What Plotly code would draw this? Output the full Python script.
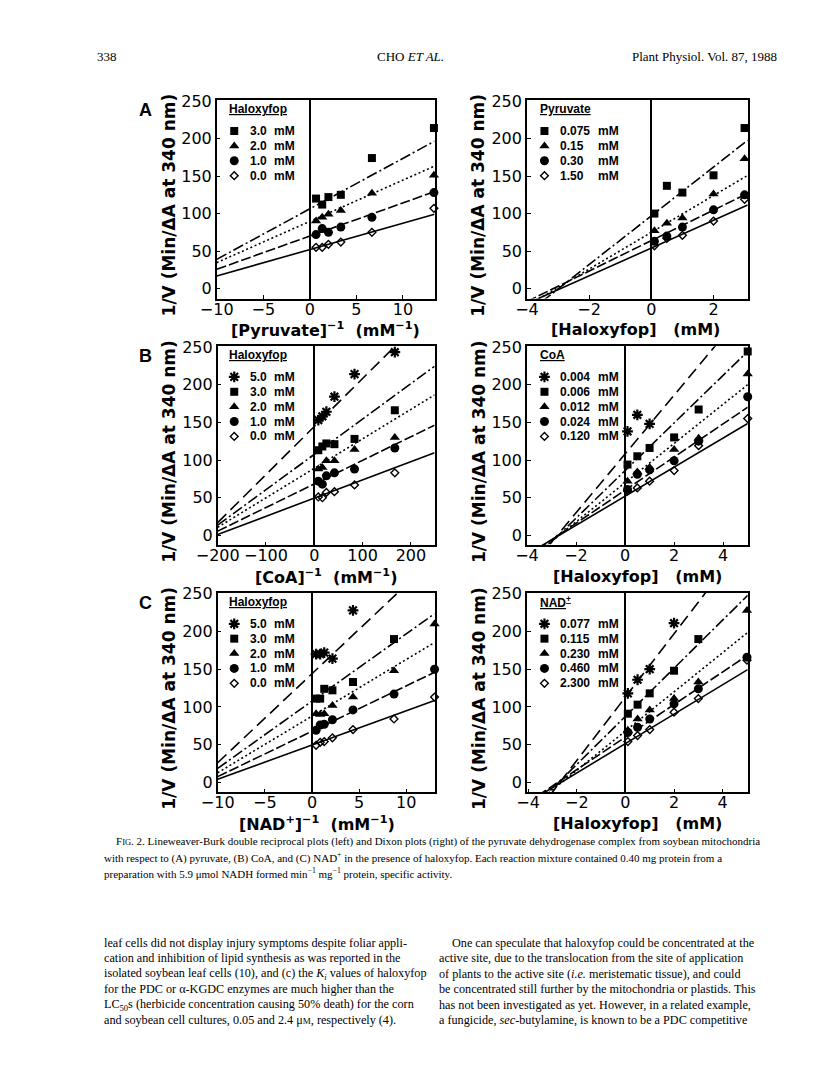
import plotly.graph_objects as go

# page is 816x1073; the browser keeps an 8px body margin, so the figure is 800x1057
PAGE_OFF = 8
W, H = 800, 1057

# ================= DATA =================
# ---- Panel A : pyruvate ----
a_lb_x = [0.67, 1.33, 2.0, 3.33, 6.67, 13.33]            # [Pyruvate]^-1 (mM^-1)
a_lb_labels = ["3.0", "2.0", "1.0", "0.0"]              # haloxyfop (mM)
a_lb_y_30 = [120, 112, 122, 125, 174, 214]
a_lb_y_20 = [90, 95, 99, 104, 127, 151]
a_lb_y_10 = [72, 80, 75, 82, 95, 128]
a_lb_y_00 = [55, 55, 59, 62, 75, 107]
a_lb_slope = [6.73, 5.50, 4.42, 3.51]
a_lb_icpt = [106.3, 89.6, 70.0, 52.0]

a_dx_x = [0.1, 0.5, 1.0, 2.0, 3.0]                       # [Haloxyfop] (mM)
a_dx_labels = ["0.075", "0.15", "0.30", "1.50"]         # pyruvate (mM)
a_dx_y_0075 = [100, 137, 128, 151, 214]
a_dx_y_015 = [77, 87, 94, 126, 173]
a_dx_y_030 = [63, 70, 82, 105, 125]
a_dx_y_150 = [57, 67, 71, 90, 119]
a_dx_slope = [32.5, 24.5, 20.3, 18.5]
a_dx_icpt = [97.0, 75.0, 64.0, 54.0]

# ---- Panel B : CoA ----
b_lb_x = [8.33, 16.7, 25.0, 41.7, 83.3, 166.7, 250.0]   # [CoA]^-1 (mM^-1)
b_lb_labels = ["5.0", "3.0", "2.0", "1.0", "0.0"]
b_lb_y_50 = [153, 158, 164, 184, 214, 243]
b_lb_y_30 = [113, 118, 122, 121, 128, 166]
b_lb_y_20 = [88, 90, 99, 99, 114, 130]
b_lb_y_10 = [72, 68, 79, 83, 88, 116, 146]
b_lb_y_00 = [51, 50, 57, 58, 67, 83, 119]
b_lb_slope = [0.637, 0.469, 0.391, 0.313, 0.241]
b_lb_icpt = [144.4, 107.5, 89.0, 68.3, 49.5]

b_dx_x = [0.1, 0.5, 1.0, 2.0, 3.0, 5.0]
b_dx_labels = ["0.004", "0.006", "0.012", "0.024", "0.120"]   # CoA (mM)
b_dx_y_0004 = [138, 160, 148]
b_dx_y_0006 = [94, 105, 116, 130, 167, 244]
b_dx_y_0012 = [72, 84, 90, 114, 129, 214]
b_dx_y_0024 = [61, 81, 87, 99, 125, 184]
b_dx_y_0120 = [59, 63, 72, 86, 119, 155]
b_dx_slope = [39.0, 31.6, 26.0, 22.0, 19.3]
b_dx_icpt = [108.0, 86.0, 70.0, 60.0, 52.0]

# ---- Panel C : NAD+ ----
c_lb_x = [0.435, 0.87, 1.3, 2.17, 4.35, 8.7, 13.0]      # [NAD+]^-1 (mM^-1)
c_lb_labels = ["5.0", "3.0", "2.0", "1.0", "0.0"]
c_lb_y_50 = [170, 170, 172, 164, 228]
c_lb_y_30 = [111, 111, 124, 122, 133, 190]
c_lb_y_20 = [91, 90, 91, 102, 113, 148, 210]
c_lb_y_10 = [69, 76, 77, 83, 96, 117, 150]
c_lb_y_00 = [49, 53, 54, 59, 70, 84, 113]
c_lb_slope = [11.8, 8.92, 7.51, 6.02, 4.55]
c_lb_icpt = [144.0, 107.7, 87.8, 67.7, 49.5]

c_dx_x = [0.1, 0.5, 1.0, 2.0, 3.0, 5.0]
c_dx_labels = ["0.077", "0.115", "0.230", "0.460", "2.300"]   # NAD+ (mM)
c_dx_y_0077 = [118, 136, 150, 211]
c_dx_y_0115 = [91, 103, 118, 148, 190]
c_dx_y_0230 = [69, 84, 96, 111, 133, 228]
c_dx_y_0460 = [66, 73, 84, 104, 124, 166]
c_dx_y_2300 = [54, 62, 70, 93, 111, 162]
c_dx_slope = [42.0, 31.9, 26.0, 21.6, 19.5]
c_dx_icpt = [113.0, 87.5, 68.0, 60.0, 51.4]

# tick values
y_ticks = [0, 50, 100, 150, 200, 250]
x_ticks_a_lb = [-10, -5, 0, 5, 10]
x_ticks_b_lb = [-200, -100, 0, 100, 200]
x_ticks_c_lb = [-10, -5, 0, 5, 10]
x_ticks_dx_a = [-4, -2, 0, 2]
x_ticks_dx = [-4, -2, 0, 2, 4]

# ================= STYLES / LAYOUT =================
SANS = "Liberation Sans"
WIDE = "DejaVu Sans"
SERIF = "Liberation Serif"

SYM = {
    "star": dict(symbol="asterisk-open", size=9, color="black", line=dict(width=2.2, color="black")),
    "square": dict(symbol="square", size=8, color="black"),
    "tri": dict(symbol="triangle-up", size=9, color="black"),
    "circ": dict(symbol="circle", size=9, color="black"),
    "diam": dict(symbol="diamond-open", size=6, color="black", line=dict(width=1.4, color="black")),
}
DASH = {
    "long": "12px,6px",
    "dashdot": "11px,3px,2px,3px",
    "dot": "2px,2.6px",
    "dash": "10px,3px",
    "solid": "solid",
}
ROW = 15            # key row spacing (px)

def px(x):          # page pixel -> paper fraction
    return (x - PAGE_OFF) / W

def py(y):
    return 1 - (y - PAGE_OFF) / H

panels = [
    dict(box=(200, 92, 424, 292), xr=(-10, 13.4), xt=x_ticks_a_lb,
         x=a_lb_x, ys=[a_lb_y_30, a_lb_y_20, a_lb_y_10, a_lb_y_00],
         labels=a_lb_labels, slope=a_lb_slope, icpt=a_lb_icpt,
         syms=["square", "tri", "circ", "diam"], dashes=["dashdot", "dot", "dash", "solid"],
         title="Haloxyfop", xtitle="[Pyruvate]<sup>−1</sup>  (mM<sup>−1</sup>)", xtitle_x=312,
         letter="A", lb=True),
    dict(box=(519, 92, 746, 292), xr=(-4, 3.1), xt=x_ticks_dx_a,
         x=a_dx_x, ys=[a_dx_y_0075, a_dx_y_015, a_dx_y_030, a_dx_y_150],
         labels=a_dx_labels, slope=a_dx_slope, icpt=a_dx_icpt,
         syms=["square", "tri", "circ", "diam"], dashes=["dashdot", "dot", "dash", "solid"],
         title="Pyruvate", xtitle="[Haloxyfop]   (mM)", xtitle_x=631, letter=None, lb=False),
    dict(box=(201, 340, 424, 541), xr=(-200, 249), xt=x_ticks_b_lb,
         x=b_lb_x, ys=[b_lb_y_50, b_lb_y_30, b_lb_y_20, b_lb_y_10, b_lb_y_00],
         labels=b_lb_labels, slope=b_lb_slope, icpt=b_lb_icpt,
         syms=["star", "square", "tri", "circ", "diam"],
         dashes=["long", "dashdot", "dot", "dash", "solid"],
         title="Haloxyfop", xtitle="[CoA]<sup>−1</sup>  (mM<sup>−1</sup>)", xtitle_x=312,
         letter="B", lb=True),
    dict(box=(519, 340, 746, 541), xr=(-4, 5), xt=x_ticks_dx,
         x=b_dx_x, ys=[b_dx_y_0004, b_dx_y_0006, b_dx_y_0012, b_dx_y_0024, b_dx_y_0120],
         labels=b_dx_labels, slope=b_dx_slope, icpt=b_dx_icpt,
         syms=["star", "square", "tri", "circ", "diam"],
         dashes=["long", "dashdot", "dot", "dash", "solid"],
         title="CoA", xtitle="[Haloxyfop]   (mM)", xtitle_x=633, letter=None, lb=False),
    dict(box=(201, 589, 424, 790), xr=(-10, 13), xt=x_ticks_c_lb,
         x=c_lb_x, ys=[c_lb_y_50, c_lb_y_30, c_lb_y_20, c_lb_y_10, c_lb_y_00],
         labels=c_lb_labels, slope=c_lb_slope, icpt=c_lb_icpt,
         syms=["star", "square", "tri", "circ", "diam"],
         dashes=["long", "dashdot", "dot", "dash", "solid"],
         title="Haloxyfop", xtitle="[NAD<sup>+</sup>]<sup>−1</sup>  (mM<sup>−1</sup>)", xtitle_x=303,
         letter="C", lb=True),
    dict(box=(519, 589, 746, 790), xr=(-4.05, 5.03), xt=x_ticks_dx,
         x=c_dx_x, ys=[c_dx_y_0077, c_dx_y_0115, c_dx_y_0230, c_dx_y_0460, c_dx_y_2300],
         labels=c_dx_labels, slope=c_dx_slope, icpt=c_dx_icpt,
         syms=["star", "square", "tri", "circ", "diam"],
         dashes=["long", "dashdot", "dot", "dash", "solid"],
         title="NAD<sup>+</sup>", xtitle="[Haloxyfop]   (mM)", xtitle_x=633, letter=None, lb=False),
]

fig = go.Figure()
layout = dict(width=W, height=H, margin=dict(l=0, r=0, t=0, b=0),
              paper_bgcolor="white", plot_bgcolor="white", showlegend=False)
annotations = []

def ann(text, x, y, size, family=SANS, anchor="left", angle=0):
    annotations.append(dict(text=text, x=px(x), y=py(y), xref="paper", yref="paper",
                            xanchor=anchor, yanchor="middle", showarrow=False, textangle=angle,
                            font=dict(family=family, size=size, color="black")))

npan = len(panels)
for i, p in enumerate(panels):
    k = "" if i == 0 else str(i + 1)
    xa, ya = "x" + k, "y" + k
    x0, y0, x1, y1 = p["box"]
    axis_common = dict(showline=True, mirror=True, linecolor="black", linewidth=1.5,
                       ticks="inside", ticklen=4, tickwidth=1.2, tickcolor="black",
                       showgrid=False, tickfont=dict(family=WIDE, size=16, color="black"))
    layout["xaxis" + k] = dict(axis_common, domain=[px(x0), px(x1)], range=list(p["xr"]),
                               tickvals=p["xt"], anchor=ya, zeroline=True,
                               zerolinecolor="black", zerolinewidth=1.5,
                               ticklabelstandoff=-5)
    layout["yaxis" + k] = dict(axis_common, domain=[py(y1), py(y0)], range=[-13.3, 251],
                               tickvals=y_ticks, anchor=xa, zeroline=False)

    # fitted lines
    for m, b, d in zip(p["slope"], p["icpt"], p["dashes"]):
        xs = [p["xr"][0], p["xr"][1]]
        fig.add_trace(go.Scatter(x=xs, y=[b + m * xv for xv in xs], mode="lines",
                                 line=dict(color="black", width=1.6, dash=DASH[d]),
                                 xaxis=xa, yaxis=ya, hoverinfo="skip"))
    # data points
    for ys, lab, s in zip(p["ys"], p["labels"], p["syms"]):
        fig.add_trace(go.Scatter(x=p["x"][:len(ys)], y=ys, mode="markers",
                                 marker=SYM[s], name=lab + " mM",
                                 xaxis=xa, yaxis=ya, cliponaxis=False))

    # ---- key: symbol column on its own small axis, rows spaced ROW px ----
    n = len(p["labels"])
    mx = 218 if p["lb"] else 537        # symbol column centre (px)
    tx = 232 if p["lb"] else 551        # value text column (px)
    ux = 257 if p["lb"] else 590        # unit column (px)
    r0 = y0 + 31                        # first row centre (px)
    j = str(npan + i + 1)
    layout["xaxis" + j] = dict(domain=[px(mx - 8), px(mx + 8)], range=[-1, 1], visible=False,
                               anchor="y" + j, fixedrange=True)
    layout["yaxis" + j] = dict(domain=[py(r0 + ROW * (n - 1) + ROW / 2), py(r0 - ROW / 2)],
                               range=[n - 0.5, -0.5], visible=False, anchor="x" + j, fixedrange=True)
    for row, (lab, s) in enumerate(zip(p["labels"], p["syms"])):
        fig.add_trace(go.Scatter(x=[0], y=[row], mode="markers", marker=SYM[s],
                                 xaxis="x" + j, yaxis="y" + j, hoverinfo="skip", cliponaxis=False))
        ann("<b>" + lab + "</b>", tx, r0 + ROW * row, 12)
        ann("<b>mM</b>", ux, r0 + ROW * row, 12)
    ann("<b><u>" + p["title"] + "</u></b>", 211 if p["lb"] else 530, y0 + 9, 12)

    # axis titles
    ann("<b>1/V (Min/ΔA at 340 nm)</b>", 151 if p["lb"] else 469, (y0 + y1) / 2 + 6, 17,
        family=WIDE, anchor="center", angle=-90)
    ann("<b>" + p["xtitle"] + "</b>", p["xtitle_x"], y1 + 31, 16, family=WIDE, anchor="center")
    if p["letter"]:
        ann("<b>" + p["letter"] + "</b>", 127, y0 + 10, 18, anchor="center")

# ---- page text ----
ann("338", 75, 48, 13, SERIF)
ann("CHO <i>ET AL.</i>", 399, 48, 13, SERIF, "center")
ann("Plant Physiol. Vol. 87, 1988", 778, 48, 13, SERIF, "right")

cap = [
    "F<span style='font-size:8.5px'>IG</span>. 2. Lineweaver-Burk double reciprocal plots (left) and Dixon plots (right) of the pyruvate dehydrogenase complex from soybean mitochondria",
    "with respect to (A) pyruvate, (B) CoA, and (C) NAD<sup>+</sup> in the presence of haloxyfop. Each reaction mixture contained 0.40 mg protein from a",
    "preparation with 5.9 μmol NADH formed min<sup>−1</sup> mg<sup>−1</sup> protein, specific activity.",
]
cap_x = [94, 82, 82]
cap_y = [840, 856, 871]
for t, x, y in zip(cap, cap_x, cap_y):
    ann(t, x, y, 11, SERIF)

body_left = [
    "leaf cells did not display injury symptoms despite foliar appli-",
    "cation and inhibition of lipid synthesis as was reported in the",
    "isolated soybean leaf cells (10), and (c) the <i>K<sub>i</sub></i> values of haloxyfop",
    "for the PDC or α-KGDC enzymes are much higher than the",
    "LC<sub>50</sub>s (herbicide concentration causing 50% death) for the corn",
    "and soybean cell cultures, 0.05 and 2.4 μ<span style='font-size:9px'>M</span>, respectively (4).",
]
body_right = [
    "One can speculate that haloxyfop could be concentrated at the",
    "active site, due to the translocation from the site of application",
    "of plants to the active site (<i>i.e.</i> meristematic tissue), and could",
    "be concentrated still further by the mitochondria or plastids. This",
    "has not been investigated as yet. However, in a related example,",
    "a fungicide, <i>sec</i>-butylamine, is known to be a PDC competitive",
]
body_y = [942, 957.5, 973, 988.5, 1004, 1019.5]
for t, y in zip(body_left, body_y):
    ann(t, 82, y, 12.2, SERIF)
for n_, (t, y) in enumerate(zip(body_right, body_y)):
    ann(t, 440 if n_ == 0 else 427, y, 12.2, SERIF)

layout["annotations"] = annotations
fig.update_layout(**layout)

fig.write_html("out.html", config={"displayModeBar": False})
